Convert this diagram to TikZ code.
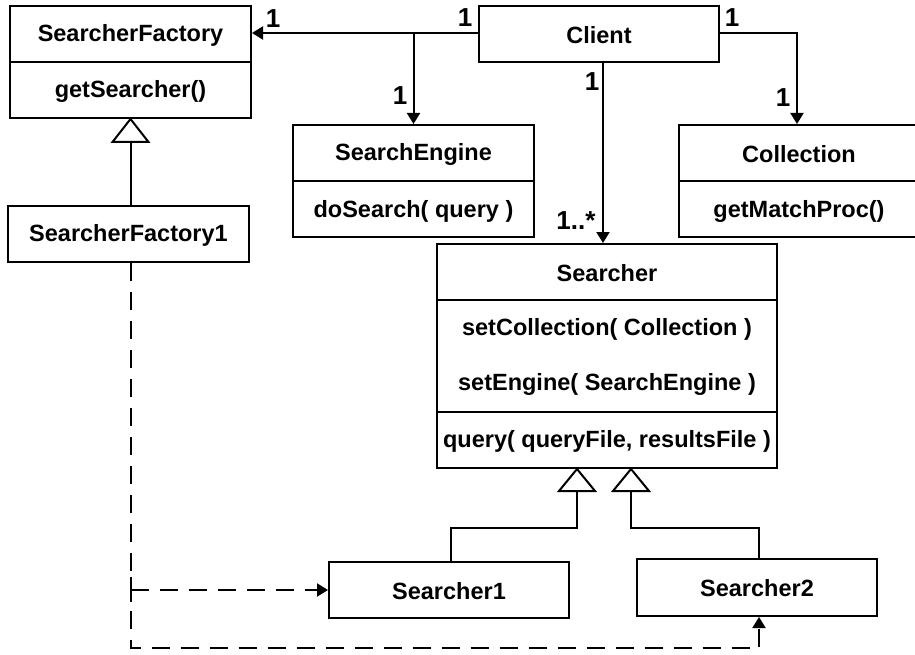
\documentclass[tikz,border=0pt]{standalone}
\usepackage{fontspec}
\setmainfont{Liberation Sans}
\usetikzlibrary{arrows.meta}

\begin{document}
\begin{tikzpicture}[x=1pt,y=-1pt,
  box/.style={draw, line width=2pt, inner sep=0pt, fill=white},
  txt/.style={font=\fontsize{23.5}{26}\selectfont\bfseries, inner sep=0pt},
  mult/.style={font=\fontsize{26}{28}\selectfont\bfseries, inner sep=0pt},
  assoc/.style={line width=2pt, -{Triangle[length=11pt,width=13pt]}},
  gen/.style={line width=2pt},
  dep/.style={line width=2pt, dash pattern=on 18pt off 11pt,
              -{Triangle[length=11pt,width=13pt]}},
]
\useasboundingbox (0,0) rectangle (915,655);

% ---- classes ----
\node[box, minimum width=241pt, minimum height=112pt] (sf)  at (130.5,62) {};
\node[box, minimum width=241pt, minimum height=56pt]  (sf1) at (128.5,234) {};
\node[box, minimum width=240pt, minimum height=56pt]  (cl)  at (599,34) {};
\node[box, minimum width=241pt, minimum height=112pt] (se)  at (413.5,181) {};
\node[box, minimum width=240pt, minimum height=112pt] (co)  at (799,181) {};
\node[box, minimum width=340pt, minimum height=224pt] (sr)  at (607,356) {};
\node[box, minimum width=240pt, minimum height=56pt]  (s1)  at (449,590) {};
\node[box, minimum width=240pt, minimum height=57pt]  (s2)  at (757,587.5) {};

% compartment dividers
\draw[gen] (sf.west) -- (sf.east);
\draw[gen] (se.west) -- (se.east);
\draw[gen] (co.west) -- (co.east);
\draw[gen] ([yshift=56pt]sr.west) -- ([yshift=56pt]sr.east);
\draw[gen] ([yshift=-56pt]sr.west) -- ([yshift=-56pt]sr.east);

% class names and operations
\node[txt] at (sf.center |- 0,35)  {SearcherFactory};
\node[txt] at (sf.center |- 0,91)  {getSearcher()};
\node[txt] at ([yshift=-1pt]sf1.center) {SearcherFactory1};
\node[txt] at ([yshift=-1pt]cl.center)  {Client};
\node[txt] at (se.center |- 0,154) {SearchEngine};
\node[txt] at (se.center |- 0,211) {doSearch( query )};
\node[txt] at (co.center |- 0,154) {Collection};
\node[txt] at (co.center |- 0,211) {getMatchProc()};
\node[txt] at (sr.center |- 0,273) {Searcher};
\node[txt] at (sr.center |- 0,329) {setCollection( Collection )};
\node[txt] at (sr.center |- 0,384) {setEngine( SearchEngine )};
\node[txt] at (sr.center |- 0,441) {query( queryFile, resultsFile )};
\node[txt] at ([yshift=-1pt]s1.center)  {Searcher1};
\node[txt] at ([yshift=-1pt]s2.center)  {Searcher2};

% ---- associations from Client ----
\coordinate (cw) at ([yshift=1pt]cl.west);
\coordinate (ce) at ([yshift=1pt]cl.east);
\draw[assoc] (cw) -- (cw -| sf.east);
\draw[assoc] (cw -| se.north) -- (se.north);
\draw[assoc] (ce) -- (ce -| 797,0) -- (797,0 |- co.north);
\draw[assoc] ([xshift=4pt]cl.south) -- ([xshift=4pt]cl.south |- sr.north);

% multiplicities
\node[mult] at (273,19)  {1};
\node[mult] at (465,18)  {1};
\node[mult] at (400,96)  {1};
\node[mult] at (732,18)  {1};
\node[mult] at (783,98)  {1};
\node[mult] at (592,82)  {1};
\node[mult] at (576,221) {1..*};

% ---- generalizations ----
\draw[gen, fill=white] (sf.south) -- ++(-18,23) -- ++(36,0) -- cycle;
\draw[gen] (sf.south) ++(0,23) -- (sf.south |- sf1.north);

\coordinate (t1) at ([xshift=-30pt]sr.south);
\coordinate (t2) at ([xshift=24pt]sr.south);
\draw[gen, fill=white] (t1) -- ++(-18,22) -- ++(36,0) -- cycle;
\draw[gen, fill=white] (t2) -- ++(-18,22) -- ++(36,0) -- cycle;
\draw[gen] (t1) ++(0,22) |- ([xshift=2pt]s1.north |- 0,528) -- ([xshift=2pt]s1.north);
\draw[gen] (t2) ++(0,22) |- ([xshift=2pt]s2.north |- 0,528) -- ([xshift=2pt]s2.north);

% ---- dependencies from SearcherFactory1 ----
\draw[dep] (sf.south |- sf1.south) -- (sf.south |- 0,648)
           -- ([xshift=2pt]s2.south |- 0,648) -- ([xshift=2pt]s2.south);
\draw[dep] (sf.south |- s1.west) -- (s1.west);
\draw[gen] (sf.south |- s1.west) ++(0,-13) -- ++(0,25);
\end{tikzpicture}
\end{document}
